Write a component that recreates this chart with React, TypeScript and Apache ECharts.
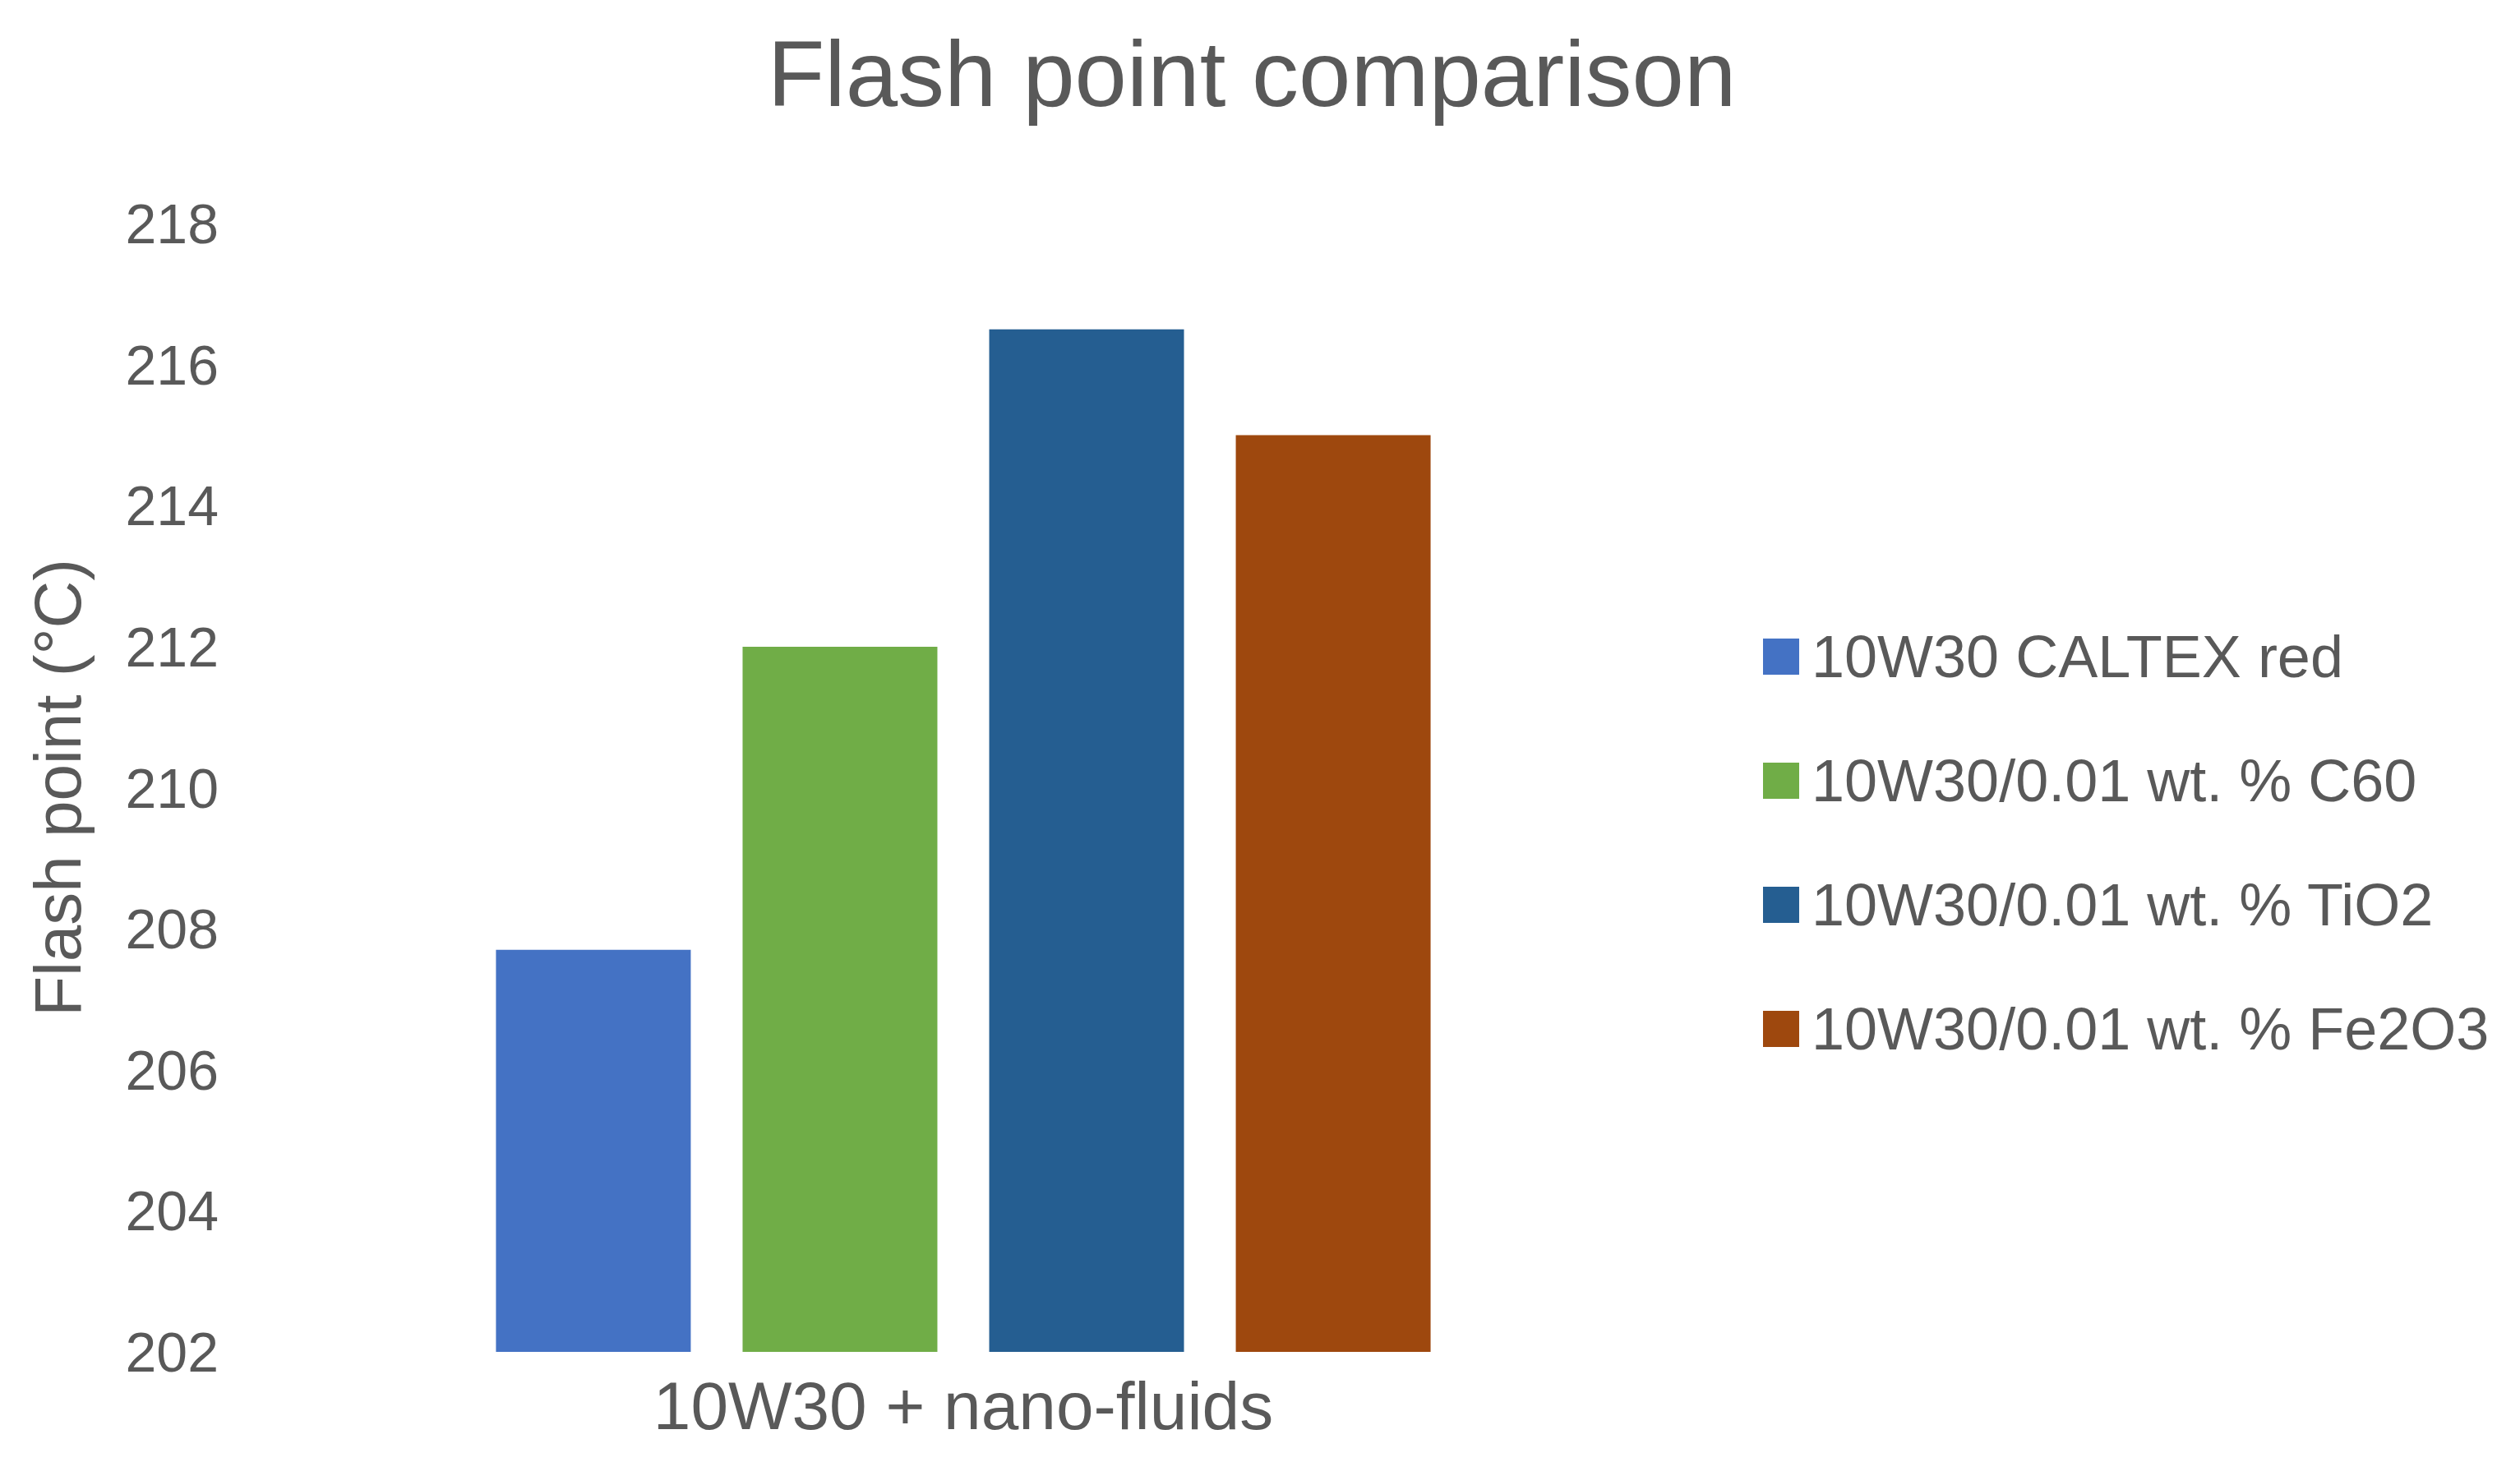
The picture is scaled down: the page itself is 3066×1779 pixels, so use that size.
import React, { useEffect, useRef } from "react";
import * as echarts from "echarts";

const categories = ["10W30 + nano-fluids"];
const seriesNames = [
  "10W30 CALTEX red",
  "10W30/0.01 wt. % C60",
  "10W30/0.01 wt. % TiO2",
  "10W30/0.01 wt. % Fe2O3",
];
const caltexValues = [207.7];
const c60Values = [212.0];
const tio2Values = [216.5];
const fe2o3Values = [215.0];
const seriesValues = [caltexValues, c60Values, tio2Values, fe2o3Values];
const seriesColors = ["#4472C4", "#70AD47", "#255E91", "#9E480E"];
const yMin = 202;
const yMax = 218;
const yInterval = 2;

const FONT = "Liberation Sans";
const TEXT = "#595959";

export default function App() {
  const ref = useRef<HTMLDivElement>(null);
  useEffect(() => {
    document.body.style.margin = "0";
    const chart = echarts.init(ref.current!, null, { renderer: "svg" });
    chart.setOption({
      animation: false,
      backgroundColor: "#ffffff",
      title: {
        text: "Flash point comparison",
        left: 1518,
        textAlign: "center",
        top: 27,
        textStyle: { fontFamily: FONT, fontSize: 114, fontWeight: "normal", color: TEXT },
      },
      legend: {
        orient: "vertical",
        left: 2140,
        top: 758,
        itemWidth: 44,
        itemHeight: 44,
        itemGap: 79,
        icon: "rect",
        data: seriesNames,
        textStyle: { fontFamily: FONT, fontSize: 72, color: TEXT, padding: [0, 0, 0, 10] },
      },
      grid: { left: 300, right: 1022, top: 272, bottom: 134, containLabel: false },
      xAxis: {
        type: "category",
        data: categories,
        axisLine: { show: false },
        axisTick: { show: false },
        axisLabel: { fontFamily: FONT, fontSize: 82, color: TEXT, margin: 24 },
      },
      yAxis: {
        type: "value",
        min: yMin,
        max: yMax,
        interval: yInterval,
        name: "Flash point (°C)",
        nameLocation: "middle",
        nameGap: 190,
        nameRotate: 90,
        nameTextStyle: { fontFamily: FONT, fontSize: 80, color: TEXT },
        axisLine: { show: false },
        axisTick: { show: false },
        splitLine: { show: false },
        axisLabel: { fontFamily: FONT, fontSize: 68, color: TEXT, margin: 34 },
      },
      series: seriesNames.map((name, i) => ({
        name,
        type: "bar",
        data: seriesValues[i],
        barWidth: 237,
        barGap: "26.6%",
        itemStyle: { color: seriesColors[i] },
      })),
    });
    return () => chart.dispose();
  }, []);
  return <div ref={ref} style={{ width: 3066, height: 1779 }} />;
}
